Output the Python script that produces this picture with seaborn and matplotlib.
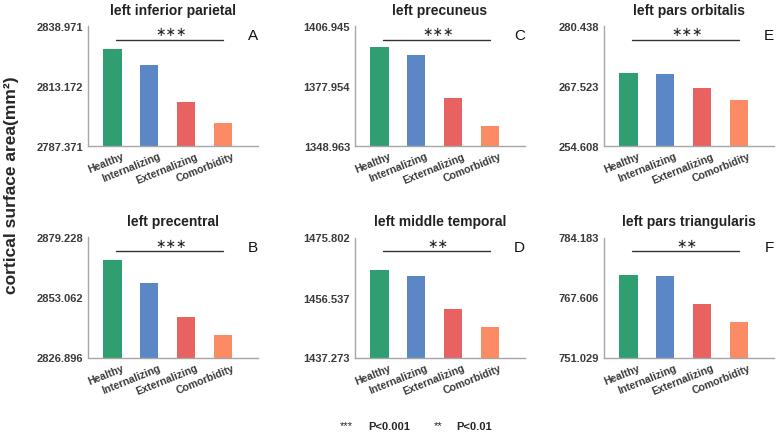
import matplotlib
matplotlib.use("Agg")
import matplotlib.pyplot as plt
import matplotlib.transforms as mtransforms
import numpy as np
import pandas as pd
import seaborn as sns

# Data
groups = ["Healthy", "Internalizing", "Externalizing", "Comorbidity"]
group_colors = ["#2f9e70", "#5b87c7", "#e96262", "#fb8b65"]

regions = ["left inferior parietal", "left precuneus", "left pars orbitalis",
           "left precentral", "left middle temporal", "left pars triangularis"]
letters = ["A", "C", "E", "B", "D", "F"]
significance = ["∗∗∗", "∗∗∗", "∗∗∗", "∗∗∗", "∗∗", "∗∗"]

inferior_parietal = [2829.1, 2822.2, 2806.2, 2797.3]
precuneus = [1396.6, 1393.1, 1372.0, 1358.8]
pars_orbitalis = [270.25, 270.1, 267.17, 264.5]
precentral = [2869.3, 2859.5, 2844.6, 2836.8]
middle_temporal = [1465.5, 1463.5, 1453.0, 1447.0]
pars_triangularis = [773.9, 773.6, 765.7, 760.7]
values = [inferior_parietal, precuneus, pars_orbitalis,
          precentral, middle_temporal, pars_triangularis]

# y-axis ticks as printed on each panel
y_lows = [2787.371, 1348.963, 254.608, 2826.896, 1437.273, 751.029]
y_mids = [2813.172, 1377.954, 267.523, 2853.062, 1456.537, 767.606]
y_highs = [2838.971, 1406.945, 280.438, 2879.228, 1475.802, 784.183]

sns.set_theme(style="white")
plt.rcParams["font.family"] = ["Liberation Sans", "DejaVu Sans"]

W, H = 777, 435
fig = plt.figure(figsize=(W / 100, H / 100), dpi=100)

col_left = [88, 355, 604]
row_top = [27, 238.5]
ax_w, ax_h = 170, 120

tick_color = "#3a3a3a"
spine_color = "#a6a6a6"
# shift rotated category labels a bit to the right of their tick
label_shift = mtransforms.ScaledTranslation(9 / 100, -2 / 100,
                                            fig.dpi_scale_trans)

for i, (region, vals) in enumerate(zip(regions, values)):
    r, c = divmod(i, 3)
    ax = fig.add_axes([col_left[c] / W, 1 - (row_top[r] + ax_h) / H,
                       ax_w / W, ax_h / H])
    df = pd.DataFrame({"group": groups, "area": vals})
    sns.barplot(data=df, x="group", y="area", hue="group",
                palette=group_colors, width=0.5, legend=False,
                saturation=1, linewidth=0, ax=ax)
    lo, mid, hi = y_lows[i], y_mids[i], y_highs[i]
    ax.set_ylim(lo, hi)
    ax.set_xlim(-0.66, 3.95)
    ax.tick_params(axis="y", direction="out", length=2.5, width=0.8,
                   color=spine_color, pad=1)
    ax.tick_params(axis="x", length=0, pad=2)
    ax.set_yticks([lo, mid, hi])
    ax.set_yticklabels([f"{v:.3f}" for v in [lo, mid, hi]],
                       fontsize=8, fontweight="bold", color=tick_color)
    ax.set_xticks(range(len(groups)))
    ax.set_xticklabels(groups, rotation=22, ha="right", va="top",
                       rotation_mode="anchor",
                       fontsize=7.6, fontweight="bold", color=tick_color)
    for lab in ax.get_xticklabels():
        lab.set_transform(lab.get_transform() + label_shift)
    ax.set_xlabel("")
    ax.set_ylabel("")
    for side in ["top", "right"]:
        ax.spines[side].set_visible(False)
    for side in ["left", "bottom"]:
        ax.spines[side].set_color(spine_color)
        ax.spines[side].set_linewidth(1.0)
    ax.set_title(region, fontsize=10, fontweight="bold", color="#222222",
                 pad=9)

    # significance bar
    line_y = lo + (hi - lo) * 0.887
    ax.plot([0.1, 3.0], [line_y, line_y], color="#333333", lw=1.0)
    ax.text(1.6, line_y + (hi - lo) * 0.01, significance[i],
            ha="center", va="bottom", fontsize=9, color="#222222",
            family=["DejaVu Sans"])
    ax.text(1.0, 0.98, letters[i], transform=ax.transAxes, ha="right",
            va="top", fontsize=11, color="#111111")

fig.text(12 / W, 1 - 185 / H, "cortical surface area(mm²)", rotation=90,
         ha="center", va="center", fontsize=12.5, fontweight="bold")

# footer legend for p values
fig.text(346 / W, 1 - 426 / H, "***", ha="center", va="center", fontsize=8)
fig.text(368 / W, 1 - 427 / H, "P<0.001", ha="left", va="center",
         fontsize=8, fontweight="bold")
fig.text(438 / W, 1 - 426 / H, "**", ha="center", va="center", fontsize=8)
fig.text(456 / W, 1 - 427 / H, "P<0.01", ha="left", va="center",
         fontsize=8, fontweight="bold")

fig.savefig("out.png", dpi=100, facecolor="white")
